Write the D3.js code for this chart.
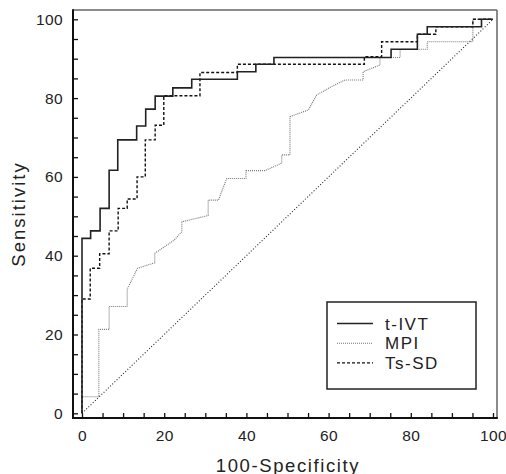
<!DOCTYPE html>
<html>
<head>
<meta charset="utf-8">
<script src="https://cdn.jsdelivr.net/npm/d3@7"></script>
<style>
  body { margin: 0; background: #fff; }
  svg { display: block; font-family: "Liberation Sans", Arial, sans-serif; }
</style>
</head>
<body>
<div id="chart"></div>
<script>
// ROC curves, values (x = 100-Specificity, y = Sensitivity)
var tivtX = [0, 0, 2.1, 4.4, 6.6, 8.7, 13.3, 15.5, 17.8, 22.1, 26.7, 37.8, 42.3, 46.7, 75.2, 81.6, 84.0, 97.2, 100];
var tivtY = [0, 44.4, 46.3, 52.0, 61.7, 69.4, 72.9, 77.2, 80.5, 82.6, 84.8, 86.7, 88.6, 90.3, 92.4, 96.2, 98.1, 100, 100];

var tssdX = [0, 0, 2.0, 4.3, 6.6, 8.8, 11.0, 13.4, 15.4, 17.8, 19.9, 28.7, 37.8, 68.7, 72.9, 81.6, 86.1, 95.1, 100];
var tssdY = [0, 29.0, 36.8, 40.5, 46.3, 52.0, 54.4, 60.0, 69.4, 73.1, 80.6, 86.5, 88.6, 90.5, 94.3, 96.2, 98.1, 100, 100];

var mpiX = [0, 0, 4.1, 4.1, 6.6, 6.6, 11.0, 11.0, 13.5, 17.7, 17.7, 22.5, 24.3, 24.3, 30.7, 30.7, 33.2, 35.2, 39.9, 39.9, 44.5, 48.6, 48.6, 50.6, 50.6, 55.1, 57.1, 60.3, 64.0, 68.4, 68.4, 72.5, 72.5, 77.4, 77.4, 84.0, 84.0, 95.1, 95.1, 100];
var mpiY = [0, 4.2, 4.2, 21.3, 21.3, 27.1, 27.1, 31.5, 36.8, 38.2, 40.6, 44.0, 46.1, 48.6, 50.2, 54.1, 54.1, 59.6, 59.6, 61.6, 61.6, 63.5, 65.6, 65.6, 75.3, 77.0, 80.8, 82.7, 84.6, 84.6, 86.7, 88.4, 90.3, 90.3, 92.4, 92.4, 94.3, 94.3, 100, 100];

var refX = [0, 100];
var refY = [0, 100];

var legendNames = ["t-IVT", "MPI", "Ts-SD"];
var tickValues = [0, 20, 40, 60, 80, 100];

var width = 506, height = 474;

var svg = d3.select("#chart")
	.append("svg")
	.attr("width", width)
	.attr("height", height)

var x = d3.scaleLinear().domain([0, 100]).range([82, 493]);
var y = d3.scaleLinear().domain([0, 100]).range([413.3, 19.3]);

// frame
var frame = { left: 73, right: 497, top: 10, bottom: 418 };
svg.append("line")
	.attr("x1", frame.left).attr("x2", frame.right)
	.attr("y1", frame.top).attr("y2", frame.top)
	.attr("stroke", "#666").attr("stroke-width", 1.5)
svg.append("line")
	.attr("x1", frame.right).attr("x2", frame.right)
	.attr("y1", frame.top).attr("y2", frame.bottom)
	.attr("stroke", "#666").attr("stroke-width", 1.5)

// axes, ticks pointing inward
var yAxis = svg.append("g")
	.attr("transform", "translate(" + frame.left + ",0)")
	.call(d3.axisLeft(y)
		.tickValues(d3.range(0, 101, 5))
		.tickSize(-5)
		.tickPadding(10)
		.tickFormat(function (d) { return tickValues.indexOf(d) >= 0 ? d : ""; }))
yAxis.select(".domain").remove();

var xAxis = svg.append("g")
	.attr("transform", "translate(0," + frame.bottom + ")")
	.call(d3.axisBottom(x)
		.tickValues(d3.range(0, 101, 5))
		.tickSize(-5)
		.tickPadding(12)
		.tickFormat(function (d) { return tickValues.indexOf(d) >= 0 ? d : ""; }))
xAxis.select(".domain").remove();

svg.selectAll(".tick line").attr("stroke", "#111").attr("stroke-width", 1.3);
svg.selectAll(".tick text")
	.attr("fill", "#222")
	.style("font-size", "15.5px")
	.style("font-family", "'Liberation Sans', Arial, sans-serif")
	.style("letter-spacing", "0.4px");

svg.append("line")
	.attr("x1", frame.left).attr("x2", frame.left)
	.attr("y1", frame.top - 0.8).attr("y2", frame.bottom + 1)
	.attr("stroke", "#111").attr("stroke-width", 2)
svg.append("line")
	.attr("x1", frame.left - 1).attr("x2", frame.right + 0.8)
	.attr("y1", frame.bottom).attr("y2", frame.bottom)
	.attr("stroke", "#111").attr("stroke-width", 2)

// axis titles
svg.append("text")
	.attr("x", (frame.left + frame.right) / 2 + 3)
	.attr("y", 472)
	.attr("text-anchor", "middle")
	.attr("fill", "#222")
	.style("font-size", "18.5px")
	.style("letter-spacing", "1.6px")
	.text("100-Specificity")

svg.append("text")
	.attr("transform", "translate(25," + ((frame.top + frame.bottom) / 2) + ") rotate(-90)")
	.attr("text-anchor", "middle")
	.attr("fill", "#222")
	.style("font-size", "18.5px")
	.style("letter-spacing", "2px")
	.text("Sensitivity")

function pts(xs, ys) {
	return xs.map(function (d, i) { return [d, ys[i]]; });
}

var line = d3.line()
	.x(function (d) { return x(d[0]); })
	.y(function (d) { return y(d[1]); });

var stepLine = d3.line()
	.x(function (d) { return x(d[0]); })
	.y(function (d) { return y(d[1]); })
	.curve(d3.curveStepAfter);

var styles = {
	tivt: { stroke: "#222", width: 1.6, dash: null },
	mpi: { stroke: "#777", width: 1.1, dash: "1,1" },
	tssd: { stroke: "#111", width: 1.4, dash: "3,2" },
	ref: { stroke: "#222", width: 1.1, dash: "1,2" }
};

svg.append("path")
	.attr("d", line(pts(refX, refY)))
	.attr("fill", "none")
	.attr("stroke", styles.ref.stroke)
	.attr("stroke-width", styles.ref.width)
	.attr("stroke-dasharray", styles.ref.dash)

svg.append("path")
	.attr("d", line(pts(mpiX, mpiY)))
	.attr("fill", "none")
	.attr("stroke", styles.mpi.stroke)
	.attr("stroke-width", styles.mpi.width)
	.attr("stroke-dasharray", styles.mpi.dash)

svg.append("path")
	.attr("d", stepLine(pts(tssdX, tssdY)))
	.attr("fill", "none")
	.attr("stroke", styles.tssd.stroke)
	.attr("stroke-width", styles.tssd.width)
	.attr("stroke-dasharray", styles.tssd.dash)

svg.append("path")
	.attr("d", stepLine(pts(tivtX, tivtY)))
	.attr("fill", "none")
	.attr("stroke", styles.tivt.stroke)
	.attr("stroke-width", styles.tivt.width)

// legend
var legend = svg.append("g").attr("transform", "translate(327,302)");
legend.append("rect")
	.attr("width", 149).attr("height", 87)
	.attr("fill", "#fff")
	.attr("stroke", "#222").attr("stroke-width", 1.5)

var legendStyles = [styles.tivt, styles.mpi, styles.tssd];
var item = legend.selectAll(".item")
	.data(legendNames)
	.enter()
	.append("g")
	.attr("class", "item")
	.attr("transform", function (d, i) { return "translate(0," + (21.5 + i * 19.7) + ")"; })

item.append("line")
	.attr("x1", 10).attr("x2", 46)
	.attr("stroke", function (d, i) { return legendStyles[i].stroke; })
	.attr("stroke-width", function (d, i) { return legendStyles[i].width; })
	.attr("stroke-dasharray", function (d, i) { return legendStyles[i].dash; })

item.append("text")
	.attr("x", 58)
	.attr("y", 6)
	.attr("fill", "#222")
	.style("font-size", "17px")
	.style("letter-spacing", "1.5px")
	.text(function (d) { return d; })
</script>
</body>
</html>
